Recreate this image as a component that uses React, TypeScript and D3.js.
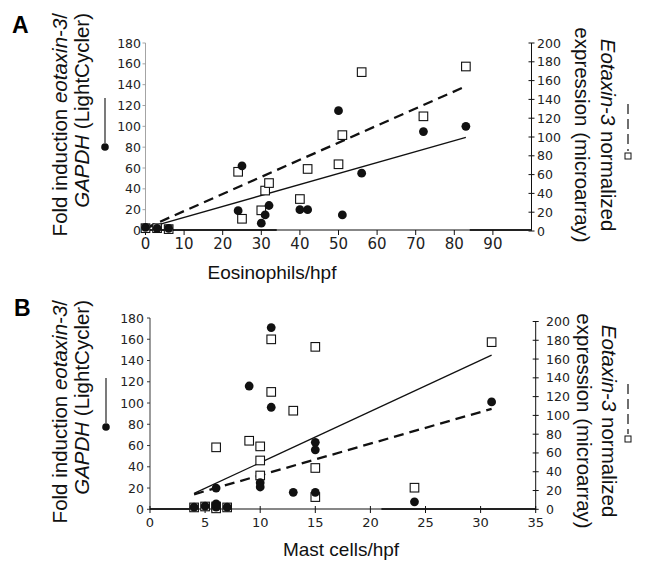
import React from "react";
import * as d3 from "d3";

type Pt = [number, number];

// Panel A: eosinophils per high power field
const eosLightCycler: Pt[] = [
  [0, 3], [3, 2], [6, 2], [24, 19], [25, 62], [30, 7], [31, 15], [32, 24],
  [40, 20], [42, 20], [50, 115], [51, 15], [56, 55], [72, 95], [83, 100],
];
const eosMicroarray: Pt[] = [
  [0, 3], [3, 3], [6, 2], [24, 63], [25, 13], [30, 22], [31, 43], [32, 51],
  [40, 34], [42, 66], [50, 71], [51, 102], [56, 169], [72, 122], [83, 175],
];
const eosFitLightCycler: Pt[] = [[0, 2], [83, 89.5]];
const eosFitMicroarray: Pt[] = [[0, 3], [83, 154]];
const eosXTicks = [0, 10, 20, 30, 40, 50, 60, 70, 80, 90];

// Panel B: mast cells per high power field
const mastLightCycler: Pt[] = [
  [4, 2], [5, 3], [6, 5], [6, 2], [7, 2], [6, 20], [10, 25], [10, 21],
  [9, 116], [11, 171], [11, 96], [13, 16], [15, 63], [15, 56], [15, 16],
  [24, 7], [31, 101],
];
const mastMicroarray: Pt[] = [
  [4, 2], [5, 3], [6, 3], [6, 1], [7, 2], [6, 66], [9, 73], [10, 67],
  [10, 52], [10, 36], [11, 181], [11, 125], [13, 105], [15, 173], [15, 44],
  [15, 13], [24, 23], [31, 178],
];
const mastFitLightCycler: Pt[] = [[4, 15], [31, 145]];
const mastFitMicroarray: Pt[] = [[4, 16], [31, 107]];
const mastXTicks = [0, 5, 10, 15, 20, 25, 30, 35];

const leftTicks = [0, 20, 40, 60, 80, 100, 120, 140, 160, 180];
const rightTicks = [0, 20, 40, 60, 80, 100, 120, 140, 160, 180, 200];

const sans = "'Liberation Sans', Arial, sans-serif";
const verd = "'DejaVu Sans', Verdana, sans-serif";

const Panel = ({ cfg }: { cfg: any }) => {
  const x = d3.scaleLinear().domain(cfg.xDomain).range(cfg.xRange);
  const yL = d3.scaleLinear().domain([0, 180]).range(cfg.yLRange);
  const yR = d3.scaleLinear().domain([0, 200]).range(cfg.yRRange);
  const lineL = d3.line<Pt>().x((d) => x(d[0])).y((d) => yL(d[1]));
  const lineR = d3.line<Pt>().x((d) => x(d[0])).y((d) => yR(d[1]));
  const x0 = cfg.xRange[0];
  const x1 = cfg.xRange[1];
  const axisY = cfg.axisY;

  return (
    <g>
      {/* panel letter */}
      <text x={cfg.letterX} y={cfg.letterY} fontFamily={sans} fontWeight="bold" fontSize={23}>
        {cfg.letter}
      </text>

      {/* left axis */}
      <line x1={x0} x2={x0} y1={yL(0)} y2={yL(180)} stroke={cfg.leftAxisColor} strokeWidth={0.9} />
      {leftTicks.map((t) => (
        <g key={"l" + t}>
          <line x1={x0 - 3} x2={x0} y1={yL(t)} y2={yL(t)} stroke={cfg.leftAxisColor} strokeWidth={0.9} />
          <text x={cfg.leftLabelX} y={yL(t)} dy="0.36em" textAnchor="end" fontFamily={verd} fontSize={12.5} fill="#222">
            {t}
          </text>
        </g>
      ))}

      {/* right axis */}
      <line x1={x1} x2={x1} y1={yR(0)} y2={yR(200)} stroke="#111" strokeWidth={1} />
      {rightTicks.map((t) => (
        <g key={"r" + t}>
          <line x1={x1 - 3} x2={x1 + 3} y1={yR(t)} y2={yR(t)} stroke="#111" strokeWidth={1} />
          <text x={cfg.rightLabelX} y={yR(t)} dy="0.36em" fontFamily={verd} fontSize={12.5} fill="#222">
            {t}
          </text>
        </g>
      ))}

      {/* x axis */}
      <line x1={x0} x2={x1} y1={axisY} y2={axisY} stroke="#111" strokeWidth={1.1} />
      {cfg.thick.map((s: Pt, i: number) => (
        <line key={"th" + i} x1={x(s[0])} x2={x(s[1])} y1={axisY} y2={axisY} stroke="#222" strokeWidth={2.2} />
      ))}
      {cfg.xTicks.map((t: number) => (
        <g key={"x" + t}>
          <line x1={x(t)} x2={x(t)} y1={axisY + cfg.tickUp} y2={axisY + cfg.tickDown} stroke="#111" strokeWidth={1} />
          <text x={x(t)} y={cfg.xLabelY} textAnchor="middle" fontFamily={verd} fontSize={cfg.xTickSize} fill="#222">
            {t}
          </text>
        </g>
      ))}
      <text x={cfg.xTitleX} y={cfg.xTitleY} textAnchor="middle" fontFamily={sans} fontSize={19} fill="#111">
        {cfg.xTitle}
      </text>

      {/* left title + legend */}
      <text transform={`translate(${cfg.lt1X},${cfg.ltTop}) rotate(-90)`} textAnchor="end" fontFamily={sans} fontSize={20.5} fill="#111">
        Fold induction <tspan fontStyle="italic">eotaxin-3</tspan>/
      </text>
      <text transform={`translate(${cfg.lt2X},${cfg.ltTop}) rotate(-90)`} textAnchor="end" fontFamily={sans} fontSize={20.5} fill="#111">
        <tspan fontStyle="italic">GAPDH</tspan> (LightCycler)
      </text>
      <line x1={cfg.legLX} x2={cfg.legLX} y1={cfg.legLY0} y2={cfg.legLY1} stroke="#333" strokeWidth={1.3} />
      <circle cx={cfg.legLX} cy={cfg.legLY1 + 4} r={3.8} fill="#111" />

      {/* right title + legend */}
      <text transform={`translate(${cfg.rt1X},${cfg.rtMid}) rotate(90)`} textAnchor="middle" fontFamily={sans} fontSize={20.5} fill="#111">
        expression (microarray)
      </text>
      <text transform={`translate(${cfg.rt2X},${cfg.rtMid}) rotate(90)`} textAnchor="middle" fontFamily={sans} fontSize={20.5} fill="#111">
        <tspan fontStyle="italic">Eotaxin-3</tspan> normalized
      </text>
      <line x1={cfg.legRX} x2={cfg.legRX} y1={cfg.legRY0} y2={cfg.legRY1} stroke="#222" strokeWidth={1.3} strokeDasharray="10,5" />
      <rect x={cfg.legRX - 3} y={cfg.legRY1 + 2} width={6} height={6} fill="white" stroke="#111" strokeWidth={1} />

      {/* regression lines */}
      <path d={lineL(cfg.fitL) || ""} fill="none" stroke="#111" strokeWidth={1.3} />
      <path d={lineR(cfg.fitR) || ""} fill="none" stroke="#111" strokeWidth={2.3} strokeDasharray="10,6" />

      {/* points */}
      {cfg.micro.map((d: Pt, i: number) => (
        <rect key={"s" + i} x={x(d[0]) - 4.3} y={yR(d[1]) - 4.3} width={8.6} height={8.6} fill="white" stroke="#111" strokeWidth={1.1} />
      ))}
      {cfg.light.map((d: Pt, i: number) => (
        <circle key={"c" + i} cx={x(d[0])} cy={yL(d[1])} r={4.4} fill="#111" />
      ))}
    </g>
  );
};

const panelA = {
  letter: "A", letterX: 12, letterY: 33,
  xDomain: [0, 100], xRange: [145.5, 531.5],
  yLRange: [230.5, 43], yRRange: [231, 43], axisY: 230,
  leftAxisColor: "#9a9a9a", leftLabelX: 141, rightLabelX: 537,
  xTicks: eosXTicks, tickUp: 0, tickDown: 5, xLabelY: 249, xTickSize: 15,
  xTitle: "Eosinophils/hpf", xTitleX: 272, xTitleY: 279,
  thick: [[0, 34], [84, 100]] as Pt[],
  lt1X: 67, lt2X: 89, ltTop: 13,
  legLX: 105, legLY0: 98, legLY1: 143,
  rt1X: 575, rt2X: 601, rtMid: 135,
  legRX: 628, legRY0: 104, legRY1: 151,
  light: eosLightCycler, micro: eosMicroarray,
  fitL: eosFitLightCycler, fitR: eosFitMicroarray,
};

const panelB = {
  letter: "B", letterX: 14, letterY: 316,
  xDomain: [0, 35], xRange: [150, 535.7],
  yLRange: [509.3, 318], yRRange: [509.3, 321.5], axisY: 509,
  leftAxisColor: "#222", leftLabelX: 144, rightLabelX: 546,
  xTicks: mastXTicks, tickUp: -3, tickDown: 4, xLabelY: 527, xTickSize: 13,
  xTitle: "Mast cells/hpf", xTitleX: 341, xTitleY: 556,
  thick: [[0, 3.7], [21, 35]] as Pt[],
  lt1X: 67, lt2X: 89, ltTop: 300,
  legLX: 106, legLY0: 378, legLY1: 423,
  rt1X: 577, rt2X: 602, rtMid: 421,
  legRX: 628, legRY0: 384, legRY1: 434,
  light: mastLightCycler, micro: mastMicroarray,
  fitL: mastFitLightCycler, fitR: mastFitMicroarray,
};

export default function App() {
  return (
    <svg
      width={649}
      height={565}
      style={{ position: "absolute", left: 0, top: 0, background: "white" }}
    >
      <rect width={649} height={565} fill="white" />
      <Panel cfg={panelA} />
      <Panel cfg={panelB} />
    </svg>
  );
}
